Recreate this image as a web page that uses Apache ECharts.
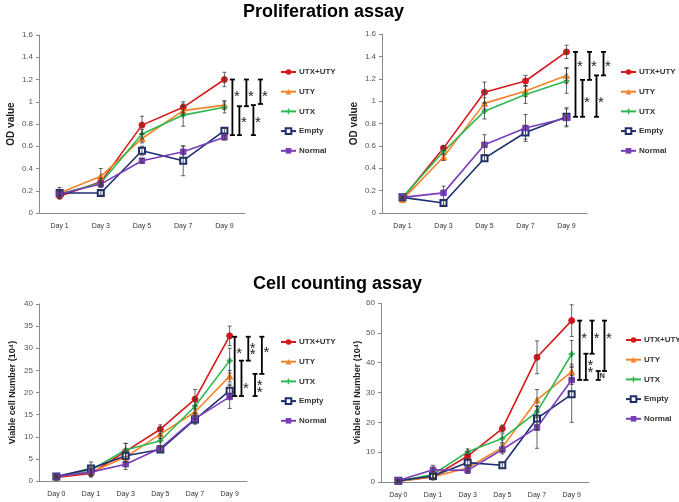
<!DOCTYPE html>
<html><head><meta charset="utf-8">
<script src="https://cdn.jsdelivr.net/npm/echarts@6/dist/echarts.min.js"></script>
<style>html,body{margin:0;padding:0;background:#fff}#c{width:679px;height:502px}</style>
</head><body><div id="c"></div>
<script>
// ---------- data ----------
const seriesNames = ['UTX+UTY', 'UTY', 'UTX', 'Empty', 'Normal'];
const daysOD = ['Day 1', 'Day 3', 'Day 5', 'Day 7', 'Day 9'];
const daysCount = ['Day 0', 'Day 1', 'Day 3', 'Day 5', 'Day 7', 'Day 9'];
const odTicks = [0, 1.6, 0.2];        // min, max, interval
const countTicksL = [0, 40, 5];
const countTicksR = [0, 60, 10];

// Proliferation (left)
const odLeftMeans = [
  [0.15, 0.28, 0.79, 0.95, 1.20],
  [0.18, 0.33, 0.67, 0.92, 0.97],
  [0.17, 0.27, 0.71, 0.88, 0.95],
  [0.18, 0.18, 0.56, 0.47, 0.74],
  [0.17, 0.26, 0.47, 0.55, 0.68]
];
const odLeftErrors = [
  [0.02, 0.03, 0.08, 0.05, 0.065],
  [0.05, 0.07, 0.04, 0.04, 0.04],
  [0.02, 0.04, 0.04, 0.10, 0.05],
  [0.02, 0.02, 0.04, 0.135, 0.02],
  [0.02, 0.02, 0.02, 0.05, 0.02]
];
// [top, bottom, label, label position]
const odLeftBrackets = [
  [1.20, 0.70, '*', 1.08],
  [0.96, 0.70, '*', 0.84],
  [1.20, 0.96, '*', 1.08],
  [0.97, 0.70, '*', 0.84],
  [1.20, 0.98, '*', 1.08]
];

// Proliferation (right)
const odRightMeans = [
  [0.13, 0.58, 1.08, 1.18, 1.44],
  [0.12, 0.50, 0.98, 1.09, 1.23],
  [0.14, 0.55, 0.91, 1.06, 1.18],
  [0.14, 0.09, 0.49, 0.72, 0.86],
  [0.14, 0.18, 0.61, 0.76, 0.85]
];
const odRightErrors = [
  [0.01, 0.02, 0.09, 0.05, 0.06],
  [0.01, 0.03, 0.05, 0.05, 0.07],
  [0.01, 0.03, 0.07, 0.08, 0.11],
  [0.01, 0.02, 0.03, 0.06, 0.08],
  [0.01, 0.06, 0.09, 0.12, 0.08]
];
const odRightBrackets = [
  [1.44, 0.86, '*', 1.34],
  [1.19, 0.86, '*', 1.02],
  [1.44, 1.19, '*', 1.34],
  [1.23, 0.86, '*', 1.02],
  [1.44, 1.23, '*', 1.34]
];

// Cell counting (left)
const countLeftMeans = [
  [0.8, 1.7, 6.7, 11.7, 18.5, 32.8],
  [1.0, 2.0, 5.4, 10.6, 15.6, 23.7],
  [1.0, 2.5, 7.0, 9.1, 16.9, 27.2],
  [1.0, 2.8, 5.7, 7.1, 13.9, 20.4],
  [1.0, 2.0, 3.8, 7.4, 14.1, 19.0]
];
const countLeftErrors = [
  [0.3, 0.8, 1.8, 1.0, 2.2, 2.2],
  [0.3, 0.8, 1.2, 1.0, 1.5, 1.3],
  [0.3, 1.0, 1.5, 1.2, 1.5, 2.8],
  [0.3, 1.5, 1.3, 0.6, 1.0, 1.5],
  [0.3, 1.0, 1.2, 0.6, 1.2, 2.6]
];
const countLeftBrackets = [
  [32.6, 19.2, '*', 29.6],
  [27.2, 19.2, '*', 21.6],
  [32.6, 27.2, '**', 30.0],
  [24.2, 19.2, '**', 21.5],
  [32.6, 24.2, '*', 29.7]
];

// Cell counting (right)
const countRightMeans = [
  [0.3, 1.7, 8.7, 17.9, 41.8, 54.1],
  [0.3, 1.8, 4.7, 11.6, 27.5, 37.0],
  [0.3, 2.5, 10.1, 14.6, 23.5, 42.9],
  [0.4, 2.0, 6.5, 5.6, 21.3, 29.4],
  [0.5, 4.1, 3.9, 10.9, 18.3, 34.2]
];
const countRightErrors = [
  [0.3, 1.0, 1.5, 1.2, 5.5, 5.3],
  [0.3, 0.8, 1.0, 1.5, 3.5, 2.5],
  [0.3, 1.0, 1.0, 1.5, 2.0, 4.5],
  [0.3, 1.0, 1.0, 1.0, 4.0, 9.4],
  [0.3, 1.5, 1.0, 1.5, 7.0, 1.5]
];
const countRightBrackets = [
  [54.1, 34.2, '*', 49.3],
  [43.0, 34.2, '**', 38.9],
  [54.1, 43.0, '*', 49.3],
  [37.2, 34.2, 'N', 35.6],
  [54.1, 37.2, '*', 49.3]
];

// ---------- styles ----------
const FONT = 'Liberation Sans, Arial, sans-serif';
const colors = ['#D7191C', '#F4832A', '#2DB850', '#1F2E6E', '#7A3DB8'];
const symbols = ['circle', 'triangle',
  'path://M-1,-4L1,-4L1,-1L4,-1L4,1L1,1L1,4L-1,4L-1,1L-4,1L-4,-1L-1,-1Z',
  'emptyRect', 'rect'];
const symbolSizes = [6, 6, 5, 6, 5.5];

const panels = [
  { grid: { left: 39, top: 35, width: 206, height: 178 }, cats: daysOD, ticks: odTicks,
    means: odLeftMeans, errs: odLeftErrors, brackets: odLeftBrackets,
    name: 'OD value', nameGap: 23, nameSize: 10, legend: { left: 280, top: 68 }, bStart: 8, bStep: 7 },
  { grid: { left: 382, top: 34, width: 205, height: 179 }, cats: daysOD, ticks: odTicks,
    means: odRightMeans, errs: odRightErrors, brackets: odRightBrackets,
    name: 'OD value', nameGap: 23, nameSize: 10, legend: { left: 620, top: 68 }, bStart: 9, bStep: 7 },
  { grid: { left: 39, top: 304, width: 208, height: 177 }, cats: daysCount, ticks: countTicksL,
    means: countLeftMeans, errs: countLeftErrors, brackets: countLeftBrackets,
    name: 'Viable cell Number (10\u2074)', nameGap: 22, nameSize: 9, legend: { left: 280, top: 338 }, bStart: 5, bStep: 6.8 },
  { grid: { left: 381, top: 303, width: 208, height: 179 }, cats: daysCount, ticks: countTicksR,
    means: countRightMeans, errs: countRightErrors, brackets: countRightBrackets,
    name: 'Viable cell Number (10\u2074)', nameGap: 18, nameSize: 9, legend: { left: 625, top: 336 }, bStart: 8, bStep: 6.2 }
];

const option = {
  animation: false,
  backgroundColor: '#fff',
  title: [
    { text: 'Proliferation assay', left: 243, top: 3, padding: 0,
      textStyle: { fontFamily: FONT, fontSize: 18, fontWeight: 'bold', color: '#000' } },
    { text: 'Cell counting assay', left: 253, top: 275, padding: 0,
      textStyle: { fontFamily: FONT, fontSize: 18, fontWeight: 'bold', color: '#000' } }
  ],
  grid: [], xAxis: [], yAxis: [], legend: [], series: []
};

panels.forEach((p, gi) => {
  option.grid.push(p.grid);
  option.xAxis.push({
    type: 'category', gridIndex: gi, data: p.cats, boundaryGap: true,
    axisLine: { lineStyle: { color: '#8a8a8a', width: 1 } },
    axisTick: { show: false },
    axisLabel: { fontFamily: FONT, fontSize: 7, color: '#333', margin: 10 }
  });
  option.yAxis.push({
    type: 'value', gridIndex: gi, min: p.ticks[0], max: p.ticks[1], interval: p.ticks[2],
    name: p.name, nameLocation: 'middle', nameGap: p.nameGap,
    nameTextStyle: { fontFamily: FONT, fontSize: p.nameSize, fontWeight: 'bold', color: '#222' },
    axisLine: { show: true, lineStyle: { color: '#8a8a8a', width: 1 } },
    axisTick: { show: true, length: 3, lineStyle: { color: '#8a8a8a' } },
    splitLine: { show: false },
    axisLabel: { fontFamily: FONT, fontSize: 8, color: '#555', margin: 6 }
  });
  option.legend.push({
    orient: 'vertical', left: p.legend.left, top: p.legend.top, padding: 0,
    itemWidth: 15, itemHeight: 7, itemGap: 11.7, data: seriesNames,
    textStyle: { fontFamily: FONT, fontSize: 8, fontWeight: 'bold', color: '#333', padding: [0, 0, 0, -2] }
  });
  seriesNames.forEach((nm, si) => {
    option.series.push({
      type: 'line', name: nm, xAxisIndex: gi, yAxisIndex: gi,
      data: p.means[si], symbol: symbols[si], symbolSize: symbolSizes[si],
      color: colors[si], lineStyle: { width: 1.6, color: colors[si] },
      itemStyle: { color: colors[si], borderColor: colors[si] },
      z: 3
    });
  });
  // error bars
  const errData = [];
  p.means.forEach((row, si) => row.forEach((m, ci) => {
    errData.push([ci, m - p.errs[si][ci], m + p.errs[si][ci]]);
  }));
  option.series.push({
    type: 'custom', xAxisIndex: gi, yAxisIndex: gi, z: 4,
    data: errData, encode: { x: 0, y: [1, 2] }, silent: true,
    renderItem: (params, api) => {
      const lo = api.coord([api.value(0), api.value(1)]);
      const hi = api.coord([api.value(0), api.value(2)]);
      const c = 2, st = { stroke: '#3c3c3c', lineWidth: 0.8 };
      return { type: 'group', children: [
        { type: 'line', shape: { x1: lo[0], y1: lo[1], x2: hi[0], y2: hi[1] }, style: st },
        { type: 'line', shape: { x1: lo[0] - c, y1: lo[1], x2: lo[0] + c, y2: lo[1] }, style: st },
        { type: 'line', shape: { x1: hi[0] - c, y1: hi[1], x2: hi[0] + c, y2: hi[1] }, style: st }
      ]};
    }
  });
  // significance brackets
  const lastCat = p.cats.length - 1;
  option.series.push({
    type: 'custom', xAxisIndex: gi, yAxisIndex: gi, z: 5, clip: false, silent: true,
    data: p.brackets.map(b => [lastCat, b[0], b[1], b[3]]),
    encode: { x: 0, y: [1, 2] },
    renderItem: (params, api) => {
      const b = p.brackets[params.dataIndex];
      const top = api.coord([lastCat, b[0]]);
      const bot = api.coord([lastCat, b[1]]);
      const lab = api.coord([lastCat, b[3]]);
      const x = top[0] + p.bStart + params.dataIndex * p.bStep;
      const c = 2.5, st = { stroke: '#000', lineWidth: 1.8 };
      const ch = [
        { type: 'line', shape: { x1: x, y1: top[1], x2: x, y2: bot[1] }, style: st },
        { type: 'line', shape: { x1: x - c, y1: top[1], x2: x + c, y2: top[1] }, style: st },
        { type: 'line', shape: { x1: x - c, y1: bot[1], x2: x + c, y2: bot[1] }, style: st }
      ];
      const chars = b[2].split('');
      const gap = 6.5;
      chars.forEach((t, k) => {
        const yy = lab[1] + (k - (chars.length - 1) / 2) * gap;
        if (t === '*') {
          ch.push({ type: 'text', style: { text: '*', x: x + 4.5, y: yy + 3.6, align: 'center', verticalAlign: 'middle',
            fill: '#222', font: 'normal 15px ' + FONT } });
        } else {
          ch.push({ type: 'text', style: { text: t, x: x + 4, y: yy, align: 'center', verticalAlign: 'middle',
            fill: '#222', font: 'bold 7px ' + FONT } });
        }
      });
      return { type: 'group', children: ch };
    }
  });
});

const chart = echarts.init(document.getElementById('c'), null, { renderer: 'canvas' });
chart.setOption(option);
</script></body></html>
